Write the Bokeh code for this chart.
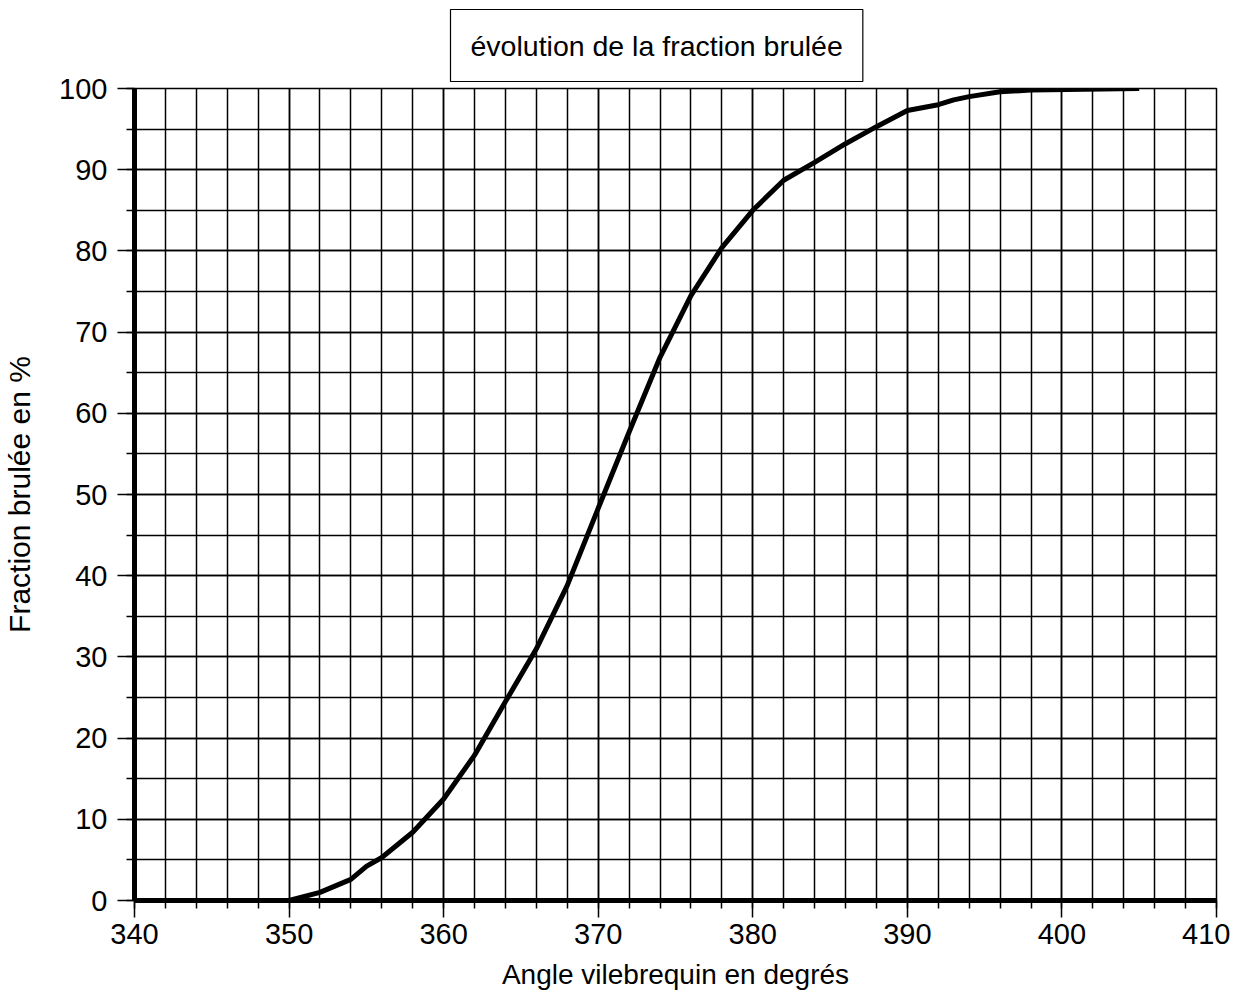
from bokeh.plotting import figure
from bokeh.models import SingleIntervalTicker, Range1d, Title
from bokeh.embed import file_html
from bokeh.resources import INLINE

# Data
angle = [340, 350, 352, 354, 355, 356, 358, 360, 362, 364, 366, 368, 370, 372,
         374, 376, 378, 380, 382, 384, 386, 388, 390, 392, 393, 394, 396, 398, 405]
fraction = [0, 0, 1.0, 2.6, 4.2, 5.3, 8.4, 12.5, 17.9, 24.5, 31.0, 38.8, 48.3, 57.7,
            66.9, 74.5, 80.4, 85.0, 88.7, 90.9, 93.2, 95.3, 97.3, 98.0, 98.6, 99.0, 99.6, 99.8, 100]

title_text = "évolution de la fraction brulée"
x_label = "Angle vilebrequin en degrés"
y_label = "Fraction brulée en %"

FONT = "Liberation Sans"

p = figure(width=1230, height=996, output_backend="svg", toolbar_location=None,
           x_range=Range1d(340, 410), y_range=Range1d(0, 100),
           min_border_left=125, min_border_right=14, min_border_top=88, min_border_bottom=96)

p.title = Title(text=title_text, align="left", text_font=FONT, text_font_size="28.5px",
                text_font_style="normal", text_color="black", padding=20,
                border_line_color="black", border_line_width=1.2,
                background_fill_color="white", offset=316, standoff=14)

p.line(angle, fraction, line_color="black", line_width=5)

xt = SingleIntervalTicker(interval=10, num_minor_ticks=5)
yt = SingleIntervalTicker(interval=10, num_minor_ticks=2)
p.xaxis.ticker = xt
p.yaxis.ticker = yt
p.xgrid.ticker = xt
p.ygrid.ticker = yt

for g in (p.xgrid, p.ygrid):
    g.grid_line_color = "black"
    g.grid_line_width = 1.5
    g.minor_grid_line_color = "black"
    g.minor_grid_line_width = 1.5

p.outline_line_color = "black"
p.outline_line_width = 1.5
p.background_fill_color = "white"
p.border_fill_color = "white"

for ax in (p.xaxis[0], p.yaxis[0]):
    ax.axis_line_color = "black"
    ax.axis_line_width = 5
    ax.major_tick_line_color = "black"
    ax.major_tick_line_width = 1.5
    ax.minor_tick_line_color = "black"
    ax.minor_tick_line_width = 1.5
    ax.major_tick_out = 17
    ax.major_tick_in = 0
    ax.minor_tick_out = 8
    ax.minor_tick_in = 0
    ax.major_label_text_font = FONT
    ax.major_label_text_font_size = "29px"
    ax.major_label_text_color = "black"
    ax.axis_label_text_font = FONT
    ax.axis_label_text_font_size = "28px"
    ax.axis_label_text_font_style = "normal"
    ax.axis_label_text_color = "black"

p.xaxis.axis_label = x_label
p.yaxis.axis_label = y_label
p.xaxis.major_label_standoff = 6
p.yaxis.major_label_standoff = 10
p.xaxis.axis_label_standoff = 12
p.yaxis.axis_label_standoff = 20
p.yaxis.axis_label_text_font_size = "30px"

open("out.html", "w").write(file_html(p, INLINE))
